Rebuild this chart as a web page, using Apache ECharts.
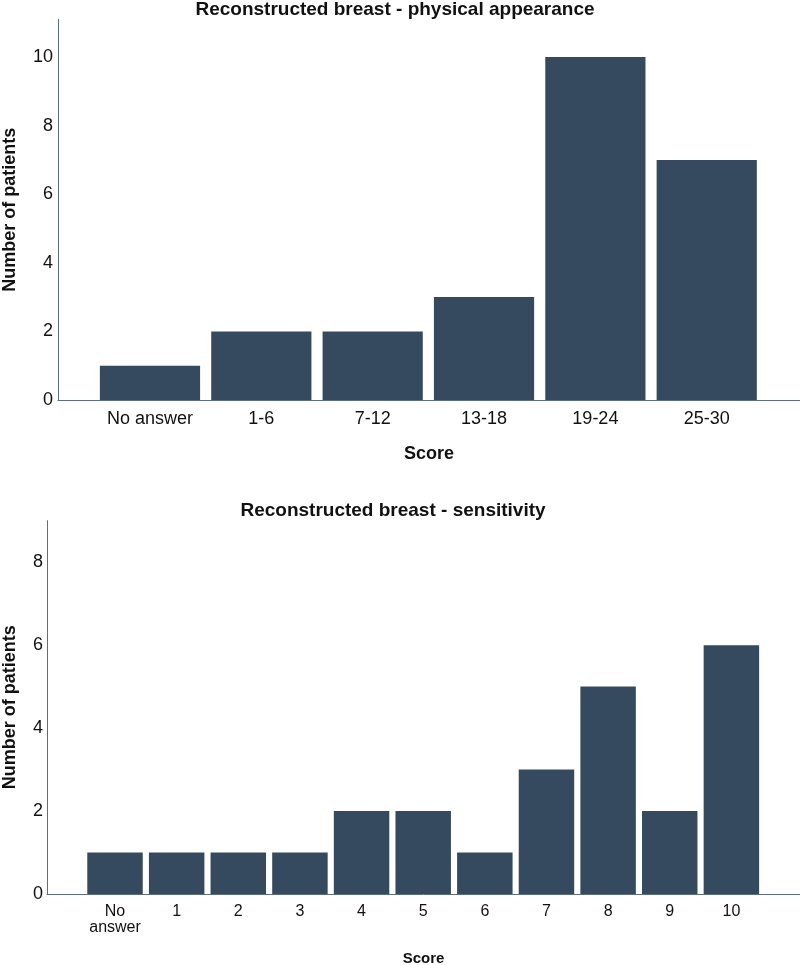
<!DOCTYPE html>
<html>
<head>
<meta charset="utf-8">
<script src="https://cdn.jsdelivr.net/npm/echarts@6/dist/echarts.min.js"></script>
<style>
html,body{margin:0;padding:0;background:#fff;}
#c{width:800px;height:965px;}
</style>
</head>
<body>
<div id="c"></div>
<script>
// Top chart: physical appearance
var topTitle = 'Reconstructed breast - physical appearance';
var topCategories = ['No answer', '1-6', '7-12', '13-18', '19-24', '25-30'];
var topValues = [1, 2, 2, 3, 10, 7];
var topYMax = 11.1;

// Bottom chart: sensitivity
var botTitle = 'Reconstructed breast - sensitivity';
var botCategories = ['No\nanswer', '1', '2', '3', '4', '5', '6', '7', '8', '9', '10'];
var botValues = [1, 1, 1, 1, 2, 2, 1, 3, 5, 2, 6];
var botYMax = 9;

var xName = 'Score';
var yName = 'Number of patients';

var FONT = '"Liberation Sans", Arial, sans-serif';
var BAR = '#354a5e';
var AXIS = '#5e6e82';
var TXT = '#111';

var chart = echarts.init(document.getElementById('c'), null, {renderer: 'canvas'});

var option = {
  animation: false,
  backgroundColor: '#fff',
  textStyle: {fontFamily: FONT},
  title: [
    {text: topTitle, left: 395, top: 0, padding: 0, textAlign: 'center',
     textStyle: {fontFamily: FONT, fontSize: 19, fontWeight: 'bold', color: TXT}},
    {text: botTitle, left: 393, top: 501, padding: 0, textAlign: 'center',
     textStyle: {fontFamily: FONT, fontSize: 19, fontWeight: 'bold', color: TXT}}
  ],
  grid: [
    // 0: top bars
    {left: 94.3, right: 37.6, top: 19.3, bottom: 565, outerBoundsMode: 'none'},
    // 1: top frame
    {left: 58, right: 0, top: 19.3, bottom: 565, outerBoundsMode: 'none'},
    // 2: bottom bars
    {left: 84.2, right: 37.8, top: 520.7, bottom: 71, outerBoundsMode: 'none'},
    // 3: bottom frame
    {left: 47, right: 0, top: 520.7, bottom: 71, outerBoundsMode: 'none'}
  ],
  xAxis: [
    {gridIndex: 0, type: 'category', data: topCategories,
     axisLine: {show: false}, axisTick: {show: false},
     axisLabel: {margin: 10, fontSize: 18, color: TXT, fontFamily: FONT, interval: 0}},
    {gridIndex: 1, type: 'value', min: 0, max: 1,
     axisLabel: {show: false}, axisTick: {show: false}, splitLine: {show: false},
     axisLine: {show: true, lineStyle: {color: AXIS, width: 1}},
     name: xName, nameLocation: 'middle', nameGap: 45,
     nameTextStyle: {fontFamily: FONT, fontSize: 18, fontWeight: 'bold', color: TXT}},
    {gridIndex: 2, type: 'category', data: botCategories,
     axisLine: {show: false}, axisTick: {show: false},
     axisLabel: {margin: 10, fontSize: 16, lineHeight: 16, color: TXT, fontFamily: FONT, interval: 0}},
    {gridIndex: 3, type: 'value', min: 0, max: 1,
     axisLabel: {show: false}, axisTick: {show: false}, splitLine: {show: false},
     axisLine: {show: true, lineStyle: {color: AXIS, width: 1}},
     name: xName, nameLocation: 'middle', nameGap: 57,
     nameTextStyle: {fontFamily: FONT, fontSize: 15, fontWeight: 'bold', color: TXT}}
  ],
  yAxis: [
    {gridIndex: 0, type: 'value', min: 0, max: topYMax, show: false},
    {gridIndex: 1, type: 'value', min: 0, max: topYMax, interval: 2,
     axisLine: {show: true, lineStyle: {color: AXIS, width: 1}},
     axisTick: {show: false}, splitLine: {show: false},
     axisLabel: {showMaxLabel: false, margin: 5, fontSize: 18, color: TXT, fontFamily: FONT},
     name: yName, nameLocation: 'middle', nameGap: 39,
     nameTextStyle: {fontFamily: FONT, fontSize: 18, fontWeight: 'bold', color: TXT}},
    {gridIndex: 2, type: 'value', min: 0, max: botYMax, show: false},
    {gridIndex: 3, type: 'value', min: 0, max: botYMax, interval: 2,
     axisLine: {show: true, lineStyle: {color: AXIS, width: 1}},
     axisTick: {show: false}, splitLine: {show: false},
     axisLabel: {showMaxLabel: false, margin: 4, fontSize: 18, color: TXT, fontFamily: FONT},
     name: yName, nameLocation: 'middle', nameGap: 28,
     nameTextStyle: {fontFamily: FONT, fontSize: 18, fontWeight: 'bold', color: TXT}}
  ],
  series: [
    {type: 'bar', xAxisIndex: 0, yAxisIndex: 0, data: topValues, barWidth: '90%',
     itemStyle: {color: BAR}},
    {type: 'bar', xAxisIndex: 2, yAxisIndex: 2, data: botValues, barWidth: '90%',
     itemStyle: {color: BAR}}
  ]
};
chart.setOption(option);
</script>
</body>
</html>
